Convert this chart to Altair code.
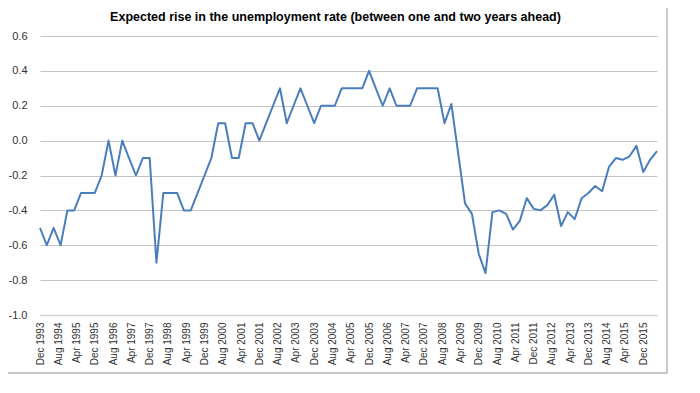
import altair as alt
import pandas as pd

TITLE = "Expected rise in the unemployment rate (between one and two years ahead)"

# Quarterly observations, Dec 1993 .. Jun 2016
start_label = "Dec 1993"
values = [
    -0.5, -0.6, -0.5, -0.6, -0.4, -0.4, -0.3, -0.3, -0.3, -0.2,
    0.0, -0.2, 0.0, -0.1, -0.2, -0.1, -0.1, -0.7, -0.3, -0.3,
    -0.3, -0.4, -0.4, -0.3, -0.2, -0.1, 0.1, 0.1, -0.1, -0.1,
    0.1, 0.1, 0.0, 0.1, 0.2, 0.3, 0.1, 0.2, 0.3, 0.2,
    0.1, 0.2, 0.2, 0.2, 0.3, 0.3, 0.3, 0.3, 0.4, 0.3,
    0.2, 0.3, 0.2, 0.2, 0.2, 0.3, 0.3, 0.3, 0.3, 0.1,
    0.21, -0.07, -0.36, -0.42, -0.65, -0.76, -0.41, -0.40, -0.42, -0.51,
    -0.46, -0.33, -0.39, -0.40, -0.37, -0.31, -0.49, -0.41, -0.45, -0.33,
    -0.30, -0.26, -0.29, -0.15, -0.10, -0.11, -0.09, -0.03, -0.18, -0.11,
    -0.06,
]

tick_labels = [
    "Dec 1993", "Aug 1994", "Apr 1995", "Dec 1995", "Aug 1996", "Apr 1997",
    "Dec 1997", "Aug 1998", "Apr 1999", "Dec 1999", "Aug 2000", "Apr 2001",
    "Dec 2001", "Aug 2002", "Apr 2003", "Dec 2003", "Aug 2004", "Apr 2005",
    "Dec 2005", "Aug 2006", "Apr 2007", "Dec 2007", "Aug 2008", "Apr 2009",
    "Dec 2009", "Aug 2010", "Apr 2011", "Dec 2011", "Aug 2012", "Apr 2013",
    "Dec 2013", "Aug 2014", "Apr 2015", "Dec 2015",
]

y_ticks = [-1.0, -0.8, -0.6, -0.4, -0.2, 0.0, 0.2, 0.4, 0.6]

dates = pd.date_range(pd.to_datetime(start_label, format="%b %Y"),
                      periods=len(values), freq="3MS")
df = pd.DataFrame({
    "date": [d.strftime("%Y-%m-%dT00:00:00") for d in dates],
    "value": values,
})


def dt(ts):
    return alt.DateTime(year=ts.year, month=ts.month, date=1)


tick_values = [dt(pd.to_datetime(t, format="%b %Y")) for t in tick_labels]
x_domain = [dt(dates[0]), dt(dates[-1])]

FONT = "Liberation Sans"
W, H = 617, 279

line = alt.Chart(df).mark_line(
    color="#4a7ebb", strokeWidth=2, strokeJoin="round"
).encode(
    x=alt.X(
        "date:T",
        scale=alt.Scale(domain=x_domain, nice=False),
        axis=alt.Axis(
            values=tick_values, format="%b %Y", labelAngle=-90,
            grid=False, ticks=False, domain=True, domainColor="#d0d0d0",
            domainWidth=1.5, labelFontSize=10, labelColor="#333333",
            labelFont=FONT, labelPadding=7, title=None, labelOverlap=False,
        ),
    ),
    y=alt.Y(
        "value:Q",
        scale=alt.Scale(domain=[-1.0, 0.6], nice=False, zero=False),
        axis=alt.Axis(
            values=y_ticks,
            labelExpr="(datum.value < -0.0001 ? '-' : '') + format(abs(datum.value), '.1f')",
            grid=True, gridColor="#c4c4c4", gridWidth=1, ticks=False,
            domain=False, labelFontSize=11, labelColor="#333333",
            labelFont=FONT, labelPadding=13, title=None,
        ),
    ),
)

frame_right = alt.Chart(df).mark_rule(color="#c8c8c8", strokeWidth=1).encode(
    x=alt.value(627), y=alt.value(-28), y2=alt.value(337)
)
frame_bottom = alt.Chart(df).mark_rule(color="#c8c8c8", strokeWidth=1).encode(
    x=alt.value(-32), x2=alt.value(627), y=alt.value(337)
)

chart = alt.layer(frame_right, frame_bottom, line).properties(
    width=W,
    height=H,
    title=alt.TitleParams(
        TITLE, font=FONT, fontSize=12.5, fontWeight="bold", color="#000000",
        anchor="middle", frame="group", dx=-13, offset=4, dy=20,
    ),
    autosize=alt.AutoSizeParams(type="none"),
    padding={"left": 32, "top": 28, "right": 27, "bottom": 66},
).configure_view(stroke=None)

chart.save("out.html", embed_options={"renderer": "svg", "actions": False})
